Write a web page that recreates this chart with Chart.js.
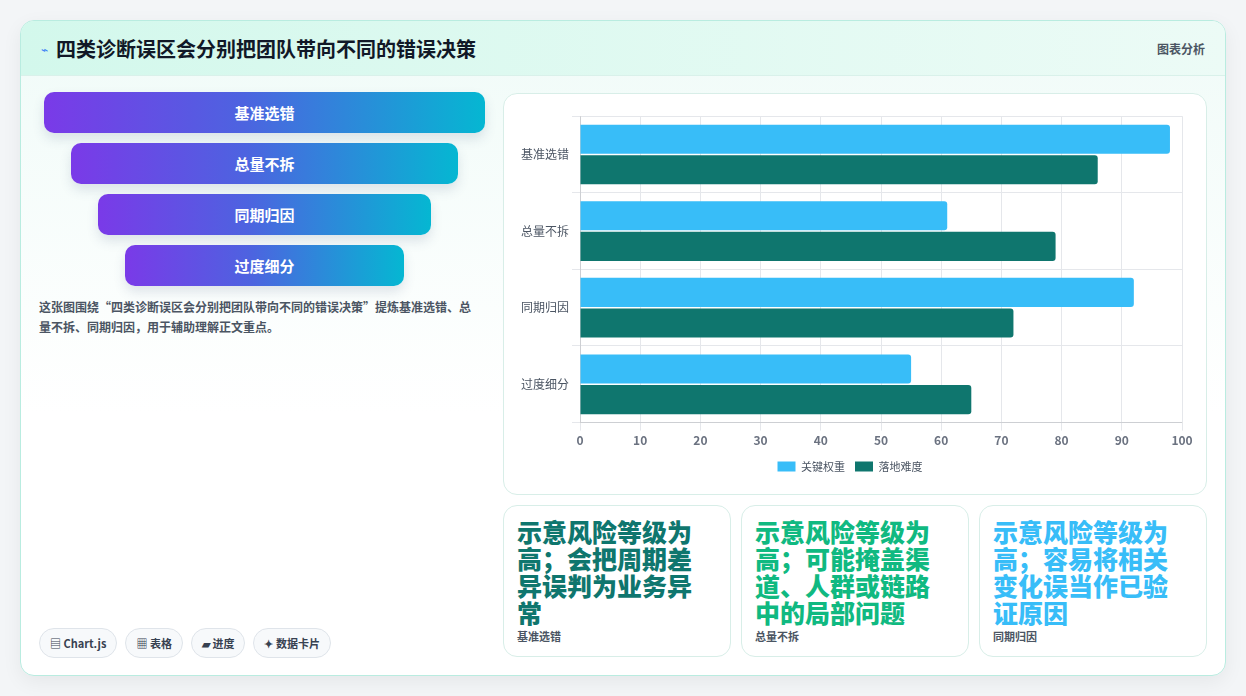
<!DOCTYPE html>
<html><head><meta charset="utf-8">
<script src="https://cdn.jsdelivr.net/npm/chart.js@4"></script>
<style>
body{margin:0;width:1246px;height:696px;background:#f3f5f7;font-family:"Noto Sans CJK SC","Noto Sans",sans-serif;overflow:hidden}
.card{position:absolute;left:20px;top:20px;width:1204px;height:654px;border:1px solid #b9ece0;border-radius:14px;background:linear-gradient(180deg,#f0fbf8,#fff 60%);box-shadow:0 6px 20px rgba(0,0,0,.06);overflow:hidden}
.head{height:54px;background:linear-gradient(90deg,#d3f8ec,#ecfbf6);border-bottom:1px solid #d9f1ea;display:flex;align-items:center;padding:0 20px}
.head h1{font-size:20px;font-weight:700;color:#111827;margin:0 0 0 8px}
.head .r{margin-left:auto;font-size:12px;color:#4b5563;font-weight:600}
.fun{position:absolute;height:41px;border-radius:10px;background:linear-gradient(90deg,#7a3ae8,#4d63e0 45%,#05b7d2);color:#fff;font-weight:700;font-size:15px;display:flex;align-items:center;justify-content:center;box-shadow:0 6px 12px rgba(60,80,120,.15)}
.desc{position:absolute;left:18px;top:276px;width:442px;font-size:12px;line-height:20px;color:#4b5563;font-weight:600}
.chips{position:absolute;left:18px;top:607px;display:flex;gap:8px}
.chip{border:1px solid #dfe4ea;border-radius:15px;background:#f7f9fb;font-size:11px;font-weight:700;color:#374151;padding:6px 10px}
.box{position:absolute;border:1px solid #d8eee8;border-radius:14px;background:#fff}
.kpi{position:absolute;top:484px;width:226px;height:150px}
.kpi .v{font-size:25px;font-weight:900;line-height:27px;margin:12px 30px 0 13px}
.kpi .l{position:absolute;left:13px;bottom:12px;font-size:11px;color:#4b5563;font-weight:600}
</style></head><body>
<div class="card">
<div class="head"><span style="color:#3b82f6;font-size:12px">⌁</span><h1>四类诊断误区会分别把团队带向不同的错误决策</h1><span class="r">图表分析</span></div>
<div id="funnel"></div>
<div class="desc">这张图围绕“四类诊断误区会分别把团队带向不同的错误决策”提炼基准选错、总量不拆、同期归因，用于辅助理解正文重点。</div>
<div class="chips"><span class="chip">▤ Chart.js</span><span class="chip">▦ 表格</span><span class="chip">▰ 进度</span><span class="chip">✦ 数据卡片</span></div>
<div class="box" style="left:482px;top:72px;width:702px;height:400px"><canvas id="c" style="position:absolute;left:10px;top:12px" width="682" height="376"></canvas></div>
<div id="kpis"></div>
</div>
<script>
const categories = ["基准选错","总量不拆","同期归因","过度细分"];
const weight = [98,61,92,55];
const difficulty = [86,79,72,65];
const kpiTexts = ["示意风险等级为高；会把周期差异误判为业务异常","示意风险等级为高；可能掩盖渠道、人群或链路中的局部问题","示意风险等级为高；容易将相关变化误当作已验证原因"];
const kpiColors = ["#0f766e","#10b981","#38bdf8"];

let f = "";
categories.forEach((c,i)=>{
  const l = 23 + i*27, w = 441 - i*54;
  f += `<div class="fun" style="left:${l}px;top:${71+i*51}px;width:${w}px">${c}</div>`;
});
document.getElementById("funnel").innerHTML = f;
let k = "";
kpiTexts.forEach((t,i)=>{
  k += `<div class="box kpi" style="left:${482+i*238}px"><div class="v" style="color:${kpiColors[i]}">${t}</div><div class="l">${categories[i]}</div></div>`;
});
document.getElementById("kpis").innerHTML = k;

Chart.defaults.font.family = '"Noto Sans CJK SC","Noto Sans",sans-serif';
new Chart(document.getElementById("c"), {
  type: "bar",
  data: { labels: categories, datasets: [
    { label: "关键权重", data: weight, backgroundColor: "#38bdf8", borderRadius: 3, categoryPercentage: 0.8, barPercentage: 0.95 },
    { label: "落地难度", data: difficulty, backgroundColor: "#0f766e", borderRadius: 3, categoryPercentage: 0.8, barPercentage: 0.95 }
  ]},
  options: {
    indexAxis: "y", responsive: false, animation: false,
    layout: { padding: { right: 14, left: 4 } },
    plugins: { legend: { position: "bottom", labels: { boxWidth: 18, boxHeight: 10, font: { size: 11 }, color: "#4b5563" } } },
    scales: {
      x: { min: 0, max: 100, ticks: { stepSize: 10, color: "#6b7280", font: { size: 12, weight: "bold" } }, grid: { color: "#e5e7eb" } },
      y: { ticks: { color: "#4b5563", font: { size: 12 } }, grid: { color: "#e5e7eb" } }
    }
  }
});
</script>
</body></html>
